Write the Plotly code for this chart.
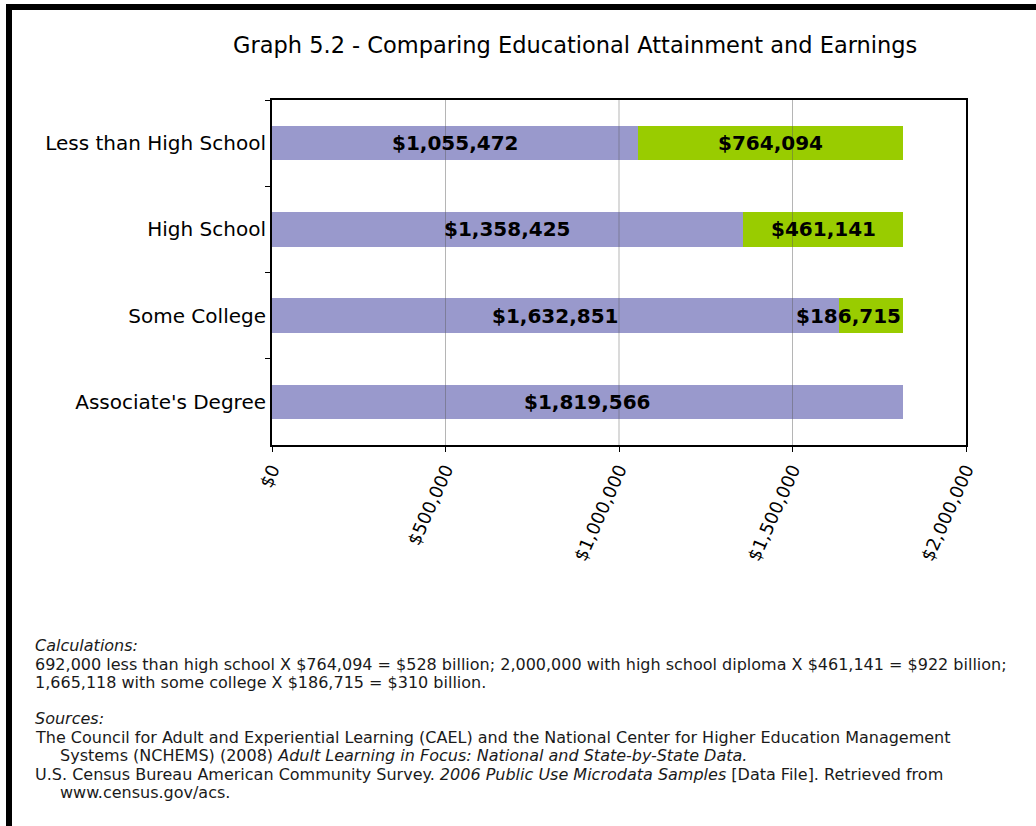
import plotly.graph_objects as go

# ---------------- data ----------------
categories = ["Less than High School", "High School", "Some College", "Associate's Degree"]
earnings = [1055472, 1358425, 1632851, 1819566]          # purple segment
gap = [764094, 461141, 186715, None]                     # green segment (difference to Associate's)
tick_vals = [0, 500000, 1000000, 1500000, 2000000]
tick_text = ["$0", "$500,000", "$1,000,000", "$1,500,000", "$2,000,000"]

title_text = "Graph 5.2 - Comparing Educational Attainment and Earnings"
notes = [
    ("<i>Calculations:</i>", 33, 645),
    ("692,000 less than high school X $764,094 = $528 billion; 2,000,000 with high school diploma X $461,141 = $922 billion;", 33, 664),
    ("1,665,118 with some college X $186,715 = $310 billion.", 33, 682),
    ("<i>Sources:</i>", 33, 718),
    ("The Council for Adult and Experiential Learning (CAEL) and the National Center for Higher Education Management", 33, 737),
    ("Systems (NCHEMS) (2008) <i>Adult Learning in Focus: National and State-by-State Data.</i>", 58, 755),
    ("U.S. Census Bureau American Community Survey. <i>2006 Public Use Microdata Samples</i> [Data File]. Retrieved from", 33, 774),
    ("www.census.gov/acs.", 58, 792),
]

PURPLE = "#9999cc"
GREEN = "#99cc00"
FONT = "DejaVu Sans"
W, H = 1036, 826

def fmt(v):
    return "${:,}".format(v)

fig = go.Figure()
fig.add_trace(go.Bar(y=categories, x=earnings, orientation="h", marker=dict(color=PURPLE, line=dict(width=0)),
                     hoverinfo="x+y"))
fig.add_trace(go.Bar(y=categories, x=gap, orientation="h", marker=dict(color=GREEN, line=dict(width=0)),
                     hoverinfo="x+y"))

annotations = []
# bar value labels
for cat, e, g in zip(categories, earnings, gap):
    annotations.append(dict(x=e / 2, y=cat, xref="x", yref="y", text="<b>" + fmt(e) + "</b>",
                            showarrow=False, xanchor="center", yanchor="middle",
                            font=dict(family=FONT, size=20, color="black")))
    if g:
        if g < 250000:
            ax, anc = e + g, "right"
        else:
            ax, anc = e + g / 2, "center"
        annotations.append(dict(x=ax, y=cat, xref="x", yref="y", text="<b>" + fmt(g) + "</b>",
                                showarrow=False, xanchor=anc, yanchor="middle",
                                font=dict(family=FONT, size=20, color="black")))

# title
annotations.append(dict(x=575 / W, y=1 - 45 / H, xref="paper", yref="paper", text=title_text,
                        showarrow=False, xanchor="center", yanchor="middle",
                        font=dict(family=FONT, size=22.5, color="black")))
# notes
for txt, px, py in notes:
    annotations.append(dict(x=px / W, y=1 - py / H, xref="paper", yref="paper", text=txt,
                            showarrow=False, xanchor="left", yanchor="middle",
                            font=dict(family=FONT, size=16, color="#1a1a1a")))

shapes = []
# gridlines drawn over bars (as in the reference)
for v in tick_vals[1:-1]:
    shapes.append(dict(type="line", xref="x", yref="paper", x0=v, x1=v,
                       y0=1 - 445 / H, y1=1 - 100 / H, layer="above",
                       line=dict(color="rgba(90,90,90,0.45)", width=1)))
# page frame (top and left black bands)
shapes.append(dict(type="rect", xref="paper", yref="paper", x0=6 / W, x1=1.01, y0=1 - 10 / H, y1=1 - 4 / H,
                   fillcolor="black", line=dict(width=0), layer="above"))
shapes.append(dict(type="rect", xref="paper", yref="paper", x0=6 / W, x1=12 / W, y0=-0.01, y1=1 - 4 / H,
                   fillcolor="black", line=dict(width=0), layer="above"))

fig.update_layout(
    width=W, height=H,
    margin=dict(l=0, r=0, t=0, b=0),
    paper_bgcolor="white", plot_bgcolor="white",
    barmode="stack", bargap=0.6,
    showlegend=False,
    annotations=annotations,
    shapes=shapes,
    font=dict(family=FONT, color="black"),
    xaxis=dict(domain=[272 / W, 966 / W], range=[0, 2000000], tickvals=tick_vals, ticktext=tick_text,
               tickangle=-66, tickfont=dict(family=FONT, size=18, color="black"),
               showgrid=False, zeroline=False, showline=True, linecolor="black", linewidth=2,
               mirror=True, ticks="outside", ticklen=5, tickcolor="black", automargin=False),
    yaxis=dict(domain=[1 - 445 / H, 1 - 100 / H], categoryorder="array", categoryarray=categories,
               autorange="reversed", tickson="boundaries", ticks="outside", ticklen=5, tickcolor="black",
               tickfont=dict(family=FONT, size=20, color="black"),
               showgrid=False, zeroline=False, showline=True, linecolor="black", linewidth=2,
               mirror=True, automargin=False),
)

fig.write_html("out.html")
